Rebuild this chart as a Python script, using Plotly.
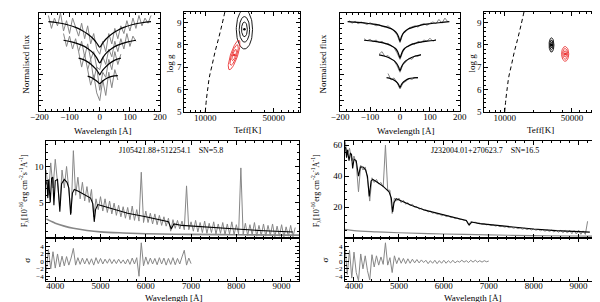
import math
import plotly.graph_objects as go

# ---------------- DATA ----------------
# Panel 1 (left Balmer lines): noisy data + model, offsets included
p1_x1 = list(range(-170, 171, 10))
p1_d1 = [4.3, 3.8, 4.2, 3.9, 4.4, 3.7, 4.1, 3.6, 4.2, 3.8, 3.5, 4.0, 3.4, 3.9, 3.2, 3.6, 3.0, 2.8,
         3.3, 2.9, 3.6, 3.2, 3.8, 3.4, 3.9, 3.6, 4.1, 3.7, 4.2, 3.8, 4.3, 3.9, 4.2, 4.0, 4.3]
p1_x2 = list(range(-120, 121, 10))
p1_d2 = [3.6, 3.1, 3.5, 3.0, 3.4, 2.9, 3.3, 2.7, 3.2, 2.6, 2.9, 2.3, 2.2, 2.7, 2.4, 3.0, 2.7, 3.3,
         2.9, 3.4, 3.0, 3.6, 3.1, 3.5, 3.3]
p1_x3 = list(range(-70, 71, 10))
p1_d3 = [2.9, 2.3, 2.8, 2.2, 2.6, 1.8, 2.3, 1.4, 2.1, 1.9, 2.6, 2.2, 2.9, 2.4, 2.8]
p1_x4 = list(range(-40, 61, 10))
p1_d4 = [2.2, 1.6, 2.0, 1.3, 1.0, 1.8, 1.2, 2.1, 1.5, 2.2, 1.8]

p1_m1x = [-170, -140, -110, -80, -60, -40, -20, -8, 0, 8, 20, 40, 60, 80, 110, 140, 170]
p1_m1y = [4.06, 4.02, 3.95, 3.84, 3.73, 3.58, 3.38, 3.2, 3.07, 3.2, 3.38, 3.58, 3.73, 3.84, 3.95, 4.02, 4.06]
p1_m2x = [-120, -90, -60, -40, -20, -8, 0, 8, 20, 40, 60, 90, 120]
p1_m2y = [3.34, 3.27, 3.15, 3.02, 2.82, 2.62, 2.46, 2.62, 2.82, 3.02, 3.15, 3.27, 3.34]
p1_m3x = [-70, -50, -30, -15, -5, 0, 5, 15, 30, 50, 70]
p1_m3y = [2.65, 2.57, 2.42, 2.25, 2.1, 2.0, 2.1, 2.25, 2.42, 2.57, 2.65]
p1_m4x = [-40, -25, -10, 0, 10, 25, 40, 60]
p1_m4y = [1.95, 1.88, 1.76, 1.66, 1.76, 1.88, 1.94, 1.97]

# Panel 3 (right Balmer lines)
p3_x1 = list(range(-170, 161, 10))
p3_d1 = [4.1, 4.0, 4.08, 3.98, 4.05, 4.0, 3.95, 4.02, 3.97, 3.9, 3.95, 3.88, 3.85, 3.9, 3.8, 3.7, 3.55,
         3.25, 3.6, 3.68, 3.82, 3.86, 3.9, 3.85, 3.95, 3.98, 3.92, 4.0, 4.05, 3.98, 4.15, 4.0, 4.2, 4.05]
p3_x2 = list(range(-120, 121, 10))
p3_d2 = [3.4, 3.32, 3.38, 3.28, 3.35, 3.25, 3.3, 3.2, 3.22, 3.12, 3.05, 2.85, 2.6, 2.9, 3.08, 3.1,
         3.22, 3.18, 3.3, 3.25, 3.35, 3.3, 3.42, 3.3, 3.38]
p3_x3 = list(range(-70, 71, 10))
p3_d3 = [2.8, 2.9, 2.7, 2.75, 2.62, 2.55, 2.35, 2.1, 2.4, 2.5, 2.65, 2.6, 2.75, 2.72, 2.8]
p3_x4 = list(range(-40, 61, 10))
p3_d4 = [2.05, 1.8, 1.88, 1.7, 1.45, 1.68, 1.75, 1.86, 1.82, 1.9, 1.88]

p3_m1x = [-175, -140, -100, -70, -50, -30, -20, -10, -4, 0, 4, 10, 20, 30, 50, 70, 100, 140, 165]
p3_m1y = [4.06, 4.03, 3.98, 3.93, 3.87, 3.79, 3.72, 3.6, 3.45, 3.3, 3.45, 3.6, 3.72, 3.79, 3.87, 3.93, 3.98, 4.03, 4.06]
p3_m2x = [-120, -90, -60, -40, -25, -15, -8, -3, 0, 3, 8, 15, 25, 40, 60, 90, 120]
p3_m2y = [3.34, 3.31, 3.25, 3.18, 3.1, 3.02, 2.9, 2.75, 2.65, 2.75, 2.9, 3.02, 3.1, 3.18, 3.25, 3.31, 3.34]
p3_m3x = [-70, -50, -35, -20, -10, -4, 0, 4, 10, 20, 35, 50, 70]
p3_m3y = [2.77, 2.72, 2.65, 2.55, 2.42, 2.28, 2.16, 2.28, 2.42, 2.55, 2.65, 2.72, 2.77]
p3_m4x = [-45, -30, -18, -8, -3, 0, 3, 8, 18, 30, 45, 60]
p3_m4y = [1.89, 1.85, 1.78, 1.68, 1.58, 1.51, 1.58, 1.68, 1.78, 1.85, 1.88, 1.89]

# Teff-logg panels: dashed boundary curve
dash_teff = [10000, 10300, 10650, 11000, 11750, 12600, 13600, 14700, 15900]
dash_logg = [5.0, 5.6, 6.1, 6.55, 7.1, 7.7, 8.25, 8.85, 9.5]
# contours: centre (log10 Teff, log g), half-axes (pixels), tilt (deg)
p2_black = dict(lx=4.40, g=8.70, a=[8.3, 5.3, 3.0], b=[20.0, 13.0, 7.5], tilt=0)
p2_red = dict(lx=4.295, g=7.55, a=[15.8, 11.0, 6.0], b=[3.6, 2.6, 1.6], tilt=71.6)
p4_black = dict(lx=4.486, g=8.00, a=[2.5, 1.7, 1.0], b=[7.3, 5.0, 3.0], tilt=0)
p4_red = dict(lx=4.628, g=7.60, a=[3.7, 2.6, 1.5], b=[7.5, 5.5, 3.2], tilt=0)
teff_ticks = [10000, 50000]
teff_ticktext = ["10000", "50000"]

# Main spectrum left (J105421.88+512254.1)
specL_wl = list(range(3800, 9301, 50))
specL_fl = [9.5, 6.0, 10.5, 7.0, 11.0, 7.5, 4.5, 9.5, 7.0, 10.0, 6.5, 3.5, 12.2, 6.0, 8.5, 5.5, 7.8, 5.2,
            7.2, 5.0, 6.8, 3.0, 5.5, 4.0, 5.8, 3.8, 5.5, 3.6, 5.2, 3.4, 4.9, 3.2, 4.6, 3.0, 4.4, 2.8,
            4.3, 2.6, 4.5, 2.5, 4.0, 2.4, 9.2, 2.2, 3.8, 2.2, 3.5, 2.0, 3.4, 1.9, 3.2, 1.8, 3.0, 1.7,
            2.8, 1.0, 2.6, 1.4, 2.5, 1.3, 2.4, 1.2, 7.3, 1.2, 2.3, 1.0, 2.5, 0.9, 2.2, 0.8, 2.4, 0.7,
            2.1, 0.8, 2.3, 0.6, 2.0, 0.7, 2.2, 0.5, 2.0, 0.6, 2.3, 0.5, 1.9, 0.6, 9.8, 0.5, 2.1, 0.4,
            1.9, 0.5, 2.2, 0.3, 1.8, 0.4, 2.0, 0.3, 1.8, 0.4, 2.0, 0.2, 1.7, 0.3, 1.9, 0.2, 1.6, 0.3,
            1.8, 0.2, 1.5]
modL_wl = [3800, 3815, 3835, 3855, 3889, 3920, 3945, 3970, 4000, 4050, 4101, 4140, 4200, 4260, 4300,
           4340, 4380, 4420, 4500, 4650, 4780, 4830, 4861, 4890, 4940, 5050, 5300, 5600, 6000, 6300,
           6500, 6563, 6620, 6800, 7200, 7600, 8000, 8500, 9000, 9250]
modL_fl = [7.5, 8.0, 5.6, 8.2, 5.0, 8.4, 8.5, 4.6, 8.0, 8.2, 3.7, 7.6, 8.2, 7.8, 7.0,
           3.3, 6.3, 6.8, 6.6, 6.0, 5.6, 4.8, 2.3, 4.0, 4.7, 4.5, 4.0, 3.5, 3.0, 2.6,
           2.3, 1.3, 2.0, 1.8, 1.6, 1.4, 1.3, 1.1, 0.95, 0.88]
errL_wl = [3800, 3900, 4000, 4200, 4400, 4700, 5000, 5500, 6000, 7000, 8000, 9000, 9390]
errL_fl = [2.7, 2.4, 2.1, 1.7, 1.4, 1.1, 0.9, 0.75, 0.65, 0.55, 0.5, 0.45, 0.45]

# Main spectrum right (J232004.01+270623.7)
specR_wl = list(range(3800, 9201, 50))
specR_fl = [63, 54, 58, 50, 53, 48, 30, 47, 44, 46, 38, 24, 39, 36, 38, 35, 36, 33, 60, 31, 31, 16,
            26, 24, 26, 23, 24.5, 22, 23, 21, 22, 20, 20.5, 18.8, 19.5, 18, 18.5, 17, 17.5, 16.2,
            16.6, 15.5, 15.8, 14.6, 15.2, 14.0, 14.5, 13.4, 13.6, 12.7, 13.0, 12.1, 12.2, 11.6, 11.6,
            8.6, 10.8, 10.2, 10.4, 9.6, 9.8, 9.1, 9.4, 8.7, 9.0, 8.3, 8.6, 7.9, 8.3, 7.5, 7.9, 7.2,
            7.6, 6.8, 7.3, 6.5, 7.0, 6.2, 6.7, 5.9, 6.5, 5.6, 6.2, 5.4, 6.0, 5.2, 5.8, 4.9, 5.6, 4.6,
            5.4, 4.4, 5.3, 4.1, 5.2, 3.9, 5.2, 3.6, 5.0, 3.4, 5.2, 3.0, 5.0, 2.8, 5.3, 2.6, 4.8, 2.5, 11]
modR_wl = modL_wl
modR_fl = [59, 58, 52, 57, 50, 55, 54, 45, 51, 50, 40, 46, 46, 44, 40,
           27, 37, 38, 36.5, 33.5, 30, 26, 17, 23, 25.5, 24, 21, 18, 15, 13,
           11.5, 8.5, 10.5, 9.5, 8.2, 7.0, 6.0, 5.0, 4.3, 4.0]
errR_wl = [3800, 4000, 4500, 5000, 6000, 7000, 8000, 9000, 9390]
errR_fl = [5.8, 5.0, 4.2, 3.6, 2.8, 2.2, 1.8, 1.5, 1.4]

# Residuals
resL_wl = list(range(3800, 7001, 50))
resL = [-2.8, 3.2, -2.0, 2.6, -1.8, 2.0, -1.5, 1.4, -1.2, 1.3, -1.0, 0.9, 3.5, -1.0, 1.0, -0.8, 0.9,
        -0.7, 0.8, -0.8, 0.7, -1.0, 1.0, -0.6, 0.8, -0.7, 0.6, -0.5, 0.7, -0.6, 0.5, -0.6, 0.6, -0.5,
        0.4, -0.7, 0.6, -0.8, 0.9, -0.7, 1.0, -4.0, 5.0, -1.2, 1.2, -0.8, 0.9, -0.7, 0.8, -0.9, 1.0,
        -0.7, 0.9, -1.0, 0.8, -0.8, 1.0, -0.9, 0.8, -0.7, 1.2, 3.0, -1.0, 0.9, -0.6]
resR_wl = list(range(3800, 7001, 50))
resR = [4.0, -3.5, 3.0, -4.5, 2.5, -3.0, -5.2, 2.0, -2.0, 1.5, -2.5, -5.0, 1.8, -1.5, 1.5, -1.0, 1.2,
        -0.8, 5.0, -1.0, 1.0, -3.0, 1.5, -0.6, 1.0, -0.5, 0.8, -0.6, 0.7, -0.5, 0.6, -0.4, 0.5, -0.4,
        0.4, -0.3, 0.3, -0.6, 0.2, -0.5, 0.3, -0.6, 0.2, -0.5, 0.3, -0.5, 0.2, -0.4, 0.3, -0.4, 0.1,
        -0.2, 0.3, -0.2, 0.2, -0.3, 0.3, -0.2, 0.3, -0.2, 0.2, -0.2, 0.2, -0.1, 0.1]

labelL = "J105421.88+512254.1    SN=5.8"
labelR = "J232004.01+270623.7    SN=16.5"

# ---------------- FIGURE ----------------
W, H = 600, 302
FONT = "Liberation Serif"
GREY = "rgb(135,135,135)"
RED = "rgb(235,50,50)"


def dx(a, b):
    return [a / W, b / W]


def dy(top, bot):
    return [1 - bot / H, 1 - top / H]


fig = go.Figure()


def add(x, y, n, color, width=1.0, dash=None, shape="linear"):
    fig.add_trace(go.Scatter(x=x, y=y, xaxis="x" if n == 1 else f"x{n}", yaxis="y" if n == 1 else f"y{n}",
                             mode="lines", line=dict(color=color, width=width, dash=dash, shape=shape),
                             hoverinfo="skip", showlegend=False))


def ellipses(p, n, color, sx, sy):
    t = math.radians(p["tilt"])
    for a, b in zip(p["a"], p["b"]):
        xs, ys = [], []
        for k in range(73):
            u = 2 * math.pi * k / 72
            px = a * math.cos(u) * math.cos(t) - b * math.sin(u) * math.sin(t)
            py = a * math.cos(u) * math.sin(t) + b * math.sin(u) * math.cos(t)
            xs.append(10 ** (p["lx"] + px / sx))
            ys.append(p["g"] + py / sy)
        add(xs, ys, n, color, 0.9)
    fig.add_trace(go.Scatter(x=[10 ** p["lx"]], y=[p["g"]], xaxis=f"x{n}", yaxis=f"y{n}", mode="markers",
                             marker=dict(color=color, size=2.5), hoverinfo="skip", showlegend=False))


# Panel 1
for x, d in [(p1_x1, p1_d1), (p1_x2, p1_d2), (p1_x3, p1_d3), (p1_x4, p1_d4)]:
    add(x, d, 1, GREY, 1.0)
for x, m in [(p1_m1x, p1_m1y), (p1_m2x, p1_m2y), (p1_m3x, p1_m3y), (p1_m4x, p1_m4y)]:
    add(x, m, 1, "black", 1.2, shape="spline")
# Panel 3
for x, d in [(p3_x1, p3_d1), (p3_x2, p3_d2), (p3_x3, p3_d3), (p3_x4, p3_d4)]:
    add(x, d, 3, GREY, 1.0)
for x, m in [(p3_m1x, p3_m1y), (p3_m2x, p3_m2y), (p3_m3x, p3_m3y), (p3_m4x, p3_m4y)]:
    add(x, m, 3, "black", 1.2, shape="spline")
# Panel 2 / 4
add(dash_teff, dash_logg, 2, "black", 1.0, dash="4px,3px", shape="spline")
add(dash_teff, dash_logg, 4, "black", 1.0, dash="4px,3px", shape="spline")
ellipses(p2_black, 2, "black", 100.0, 22.75)
ellipses(p2_red, 2, RED, 100.0, 22.75)
ellipses(p4_black, 4, "black", 98.7, 22.75)
ellipses(p4_red, 4, RED, 98.7, 22.75)
# Main spectra
add(specL_wl, specL_fl, 5, GREY, 1.0)
add(errL_wl, errL_fl, 5, GREY, 1.6, shape="spline")
add(modL_wl, modL_fl, 5, "black", 1.1)
add(specR_wl, specR_fl, 7, GREY, 1.0)
add(errR_wl, errR_fl, 7, GREY, 1.2, shape="spline")
add(modR_wl, modR_fl, 7, "black", 1.1)
# Residuals
add(resL_wl, resL, 6, GREY, 1.0)
add(resR_wl, resR, 8, GREY, 1.0)


def axis(domain, rng, anchor, dtick=None, minor=None, labels=True, typ="linear", tickvals=None,
         ticktext=None, minor_vals=None, fsize=9, standoff=0):
    d = dict(domain=domain, range=rng, anchor=anchor, type=typ, showline=True, linecolor="black",
             linewidth=1, mirror="ticks", ticks="inside", ticklen=4, tickwidth=1, tickcolor="black",
             showgrid=False, zeroline=False, showticklabels=labels, ticklabelstandoff=standoff,
             tickfont=dict(family=FONT, size=fsize, color="black"))
    if tickvals is not None:
        d["tickmode"] = "array"
        d["tickvals"] = tickvals
        if ticktext is not None:
            d["ticktext"] = ticktext
    elif dtick is not None:
        d["dtick"] = dtick
    mn = dict(ticks="inside", ticklen=2, tickcolor="black", tickwidth=1, showgrid=False)
    if minor_vals is not None:
        mn["tickmode"] = "array"
        mn["tickvals"] = minor_vals
        d["minor"] = mn
    elif minor is not None:
        mn["dtick"] = minor
        d["minor"] = mn
    return d


teff_minor = [6000, 7000, 8000, 9000, 20000, 30000, 40000, 60000, 70000, 80000, 90000]
top1 = dy(4, 104)
top2 = dy(3, 105)
mainy = dy(135, 234)
resy = dy(234, 278)
wlrange = [3800, 9390]

fig.update_layout(
    width=W, height=H, margin=dict(l=0, r=0, t=0, b=0), paper_bgcolor="white", plot_bgcolor="white",
    xaxis=axis(dx(23, 147), [-200, 200], "y", dtick=100, minor=20, standoff=-3),
    yaxis=axis(top1, [0.6, 4.4], "x", dtick=1, minor=0.2, labels=False),
    xaxis2=axis(dx(172, 291), [3.787, 4.97], "y2", typ="log", tickvals=teff_ticks, ticktext=teff_ticktext,
                minor_vals=teff_minor, standoff=-3),
    yaxis2=axis(top2, [5, 9.48], "x2", dtick=1, minor=0.2),
    xaxis3=axis(dx(332, 455), [-200, 200], "y3", dtick=100, minor=20, standoff=-3),
    yaxis3=axis(top1, [0.6, 4.4], "x3", dtick=1, minor=0.2, labels=False),
    xaxis4=axis(dx(480, 597), [3.787, 4.97], "y4", typ="log", tickvals=teff_ticks, ticktext=teff_ticktext,
                minor_vals=teff_minor, standoff=-3),
    yaxis4=axis(top2, [5, 9.48], "x4", dtick=1, minor=0.2),
    xaxis5=axis(dx(30, 290), wlrange, "y5", dtick=1000, minor=200, labels=False),
    yaxis5=axis(mainy, [0, 13.5], "x5", tickvals=[5, 10], minor=1),
    xaxis6=axis(dx(30, 290), wlrange, "y6", dtick=1000, minor=200, standoff=-4),
    yaxis6=axis(resy, [-5.4, 6.2], "x6", tickvals=[-4, -2, 0, 2, 4], minor=1, fsize=7),
    xaxis7=axis(dx(337, 595), wlrange, "y7", dtick=1000, minor=200, labels=False),
    yaxis7=axis(mainy, [0, 62.5], "x7", tickvals=[20, 40, 60], minor=5),
    xaxis8=axis(dx(337, 595), wlrange, "y8", dtick=1000, minor=200, standoff=-4),
    yaxis8=axis(resy, [-5.4, 6.2], "x8", tickvals=[-4, -2, 0, 2, 4], minor=1, fsize=7),
)


def note(text, x, y, size=9, angle=0):
    fig.add_annotation(text=text, x=x / W, y=1 - y / H, xref="paper", yref="paper", showarrow=False,
                       textangle=angle, xanchor="center", yanchor="middle",
                       font=dict(family=FONT, size=size, color="black"))


flux_title = "F<sub>λ</sub>[10<sup>-16</sup>erg cm<sup>-2</sup>s<sup>-1</sup>Å<sup>-1</sup>]"
note("Normalised flux", 9, 56, 9, -90)
note("Normalised flux", 314, 56, 9, -90)
note("Wavelength [Å]", 88, 124)
note("Wavelength [Å]", 400, 124)
note("log g", 157, 55, 9, -90)
note("log g", 467, 55, 9, -90)
note("Teff[K]", 237, 123)
note("Teff[K]", 538, 123)
note(flux_title, 7, 185, 8, -90)
note(flux_title, 307, 185, 8, -90)
note("σ", 10, 256, 9, -90)
note("σ", 316, 256, 9, -90)
note("Wavelength [Å]", 161, 295)
note("Wavelength [Å]", 468, 295)
note(labelL, 158, 144, 8)
note(labelR, 481, 144, 8)

fig.write_html("out.html")
